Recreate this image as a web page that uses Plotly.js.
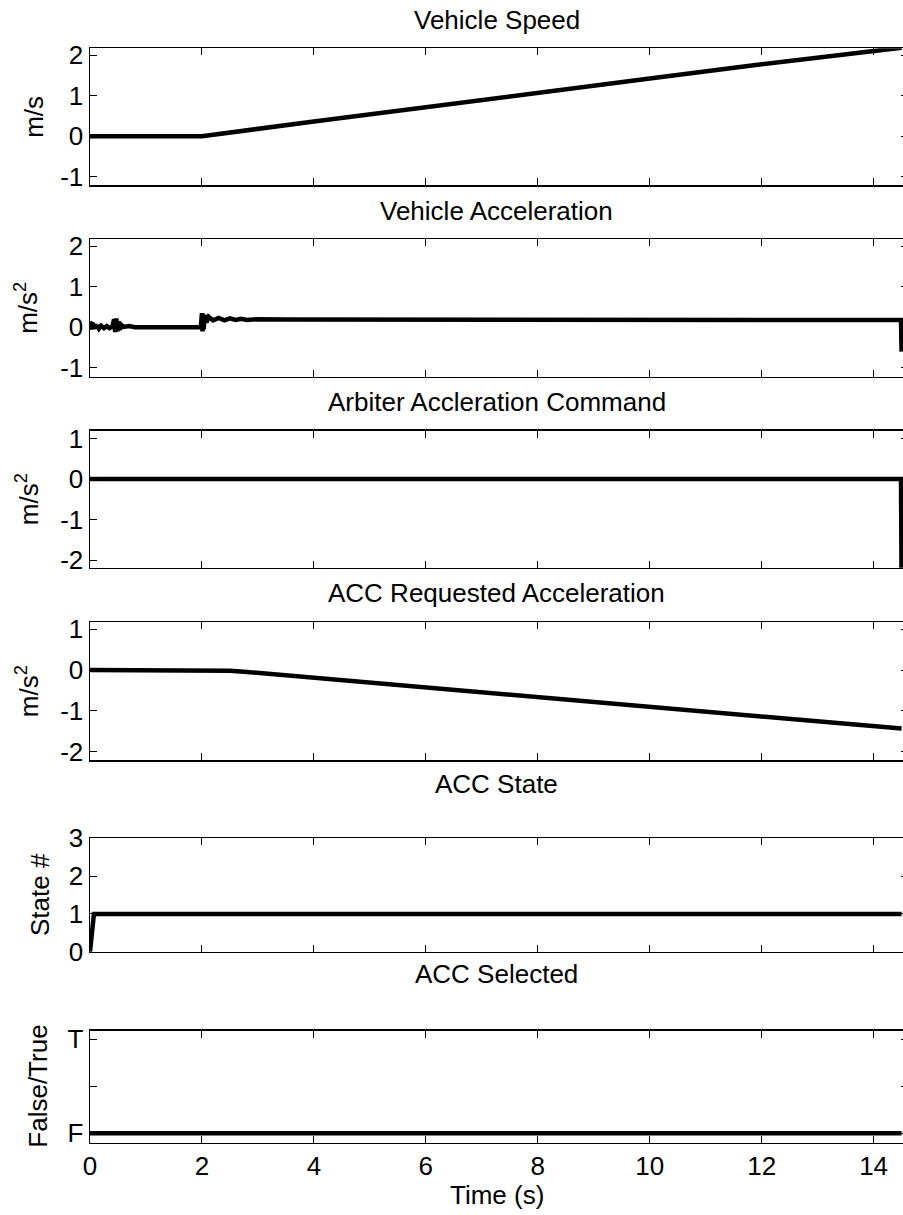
<!DOCTYPE html>
<html>
<head>
<meta charset="utf-8">
<script src="https://cdn.plot.ly/plotly-3.0.1.min.js"></script>
<style>
html,body{margin:0;padding:0;overflow:hidden;background:#fff;}
#chart{width:908px;height:1215px;}
</style>
</head>
<body>
<div id="chart"></div>
<script>
// ---- data ----
const panelTitles = ["Vehicle Speed", "Vehicle Acceleration", "Arbiter Accleration Command",
                     "ACC Requested Acceleration", "ACC State", "ACC Selected"];
const yTitles = ["m/s", "m/s<sup>2</sup>", "m/s<sup>2</sup>", "m/s<sup>2</sup>", "State #", "False/True"];
const xTitle = "Time (s)";
const xTickVals = [0, 2, 4, 6, 8, 10, 12, 14];

const speedT = [0, 2, 4, 6, 8, 10, 12, 14, 14.5];
const speedV = [0, 0, 0.36, 0.72, 1.07, 1.42, 1.77, 2.11, 2.18];

const accelT = [0, 0.02, 0.04, 0.06, 0.08, 0.1, 0.13, 0.16, 0.2, 0.25, 0.3, 0.35, 0.4, 0.43, 0.45, 0.47,
                0.49, 0.51, 0.53, 0.56, 0.6, 0.7, 0.8, 1.0, 1.5, 1.98, 2.0, 2.01, 2.02, 2.03, 2.05, 2.08,
                2.12, 2.2, 2.3, 2.4, 2.5, 2.6, 2.7, 2.8, 3.0, 3.5, 5, 8, 10, 12, 14, 14.49, 14.5];
const accelV = [0.15, -0.05, 0.12, -0.04, 0.08, -0.02, 0.05, -0.03, 0.04, -0.02, 0.03, -0.02, 0.02, 0.2, -0.12, 0.22,
                -0.1, 0.15, -0.06, 0.06, 0.01, 0.03, 0.0, 0.0, 0.0, 0.0, 0.35, -0.1, 0.33, -0.05, 0.3, 0.12,
                0.26, 0.17, 0.23, 0.17, 0.22, 0.18, 0.21, 0.18, 0.2, 0.19, 0.19, 0.19, 0.18, 0.18, 0.18, 0.18, -0.6];

const arbT = [0, 14.49, 14.5];
const arbV = [0, 0, -2.6];

const reqT = [0, 2.25, 2.5, 2.75, 3.0, 3.75, 6, 9.1, 10, 12, 14, 14.5];
const reqV = [0, 0, -0.015, -0.04, -0.07, -0.16, -0.42, -0.78, -0.89, -1.13, -1.37, -1.43];

const stateT = [0, 0.07, 14.5];
const stateV = [0, 1, 1];

const selT = [0, 14.5];
const selV = [0, 0];

const yTickVals = [[-1, 0, 1, 2], [-1, 0, 1, 2], [-2, -1, 0, 1], [-2, -1, 0, 1], [0, 1, 2, 3], [0, 0.5, 1]];
const yTickText = [["-1", "0", "1", "2"], ["-1", "0", "1", "2"], ["-2", "-1", "0", "1"], ["-2", "-1", "0", "1"],
                   ["0", "1", "2", "3"], ["F", " ", "T"]];
const yRanges = [[-1.21, 2.165], [-1.22, 2.18], [-2.19, 1.19], [-2.2, 1.17], [0, 3], [-0.1, 1.09]];

// ---- layout geometry (pixels) ----
const W = 908, H = 1215;
const plotLeft = 90, pxPerUnit = 55.97;
const xMax = (W - plotLeft) / pxPerUnit;
const boxes = [[48.3, 185.3], [239, 376.7], [430.7, 567.7], [622.3, 760], [838.3, 951.7], [1030.7, 1142.7]];
const titleY = [20, 211, 402, 593, 784, 974];
const yTitleX = [34, 27, 27, 27, 40, 38];

const FONT = "'Liberation Sans', Arial, sans-serif";
const series = [[speedT, speedV], [accelT, accelV], [arbT, arbV], [reqT, reqV], [stateT, stateV], [selT, selV]];

const traces = [];
const layout = {
  width: W, height: H,
  margin: {l: 0, r: 0, t: 0, b: 0},
  paper_bgcolor: "#fff", plot_bgcolor: "#fff",
  showlegend: false,
  font: {family: FONT, size: 26, color: "#000"},
  annotations: []
};

series.forEach((s, i) => {
  const n = i + 1;
  const xa = n === 1 ? "xaxis" : "xaxis" + n;
  const ya = n === 1 ? "yaxis" : "yaxis" + n;
  traces.push({
    x: s[0], y: s[1], type: "scatter", mode: "lines",
    xaxis: "x" + (n === 1 ? "" : n), yaxis: "y" + (n === 1 ? "" : n),
    line: {color: "#000", width: 4.5}, hoverinfo: "skip"
  });
  const top = boxes[i][0], bot = boxes[i][1];
  layout[xa] = {
    domain: [plotLeft / W, 1],
    anchor: "y" + (n === 1 ? "" : n),
    range: [0, xMax],
    tickvals: xTickVals,
    showticklabels: n === 6,
    ticks: "inside", ticklen: 7, tickwidth: 1, tickcolor: "#000",
    showline: true, linecolor: "#000", linewidth: 1.5, mirror: "ticks",
    showgrid: false, zeroline: false,
    tickfont: {family: FONT, size: 26, color: "#000"}
  };
  layout[ya] = {
    domain: [1 - bot / H, 1 - top / H],
    anchor: "x" + (n === 1 ? "" : n),
    range: yRanges[i],
    tickvals: yTickVals[i], ticktext: yTickText[i],
    ticks: "inside", ticklen: 7, tickwidth: 1, tickcolor: "#000",
    showline: true, linecolor: "#000", linewidth: 1.5, mirror: "ticks",
    showgrid: false, zeroline: false,
    tickfont: {family: FONT, size: 26, color: "#000"}
  };
  layout.annotations.push({
    text: panelTitles[i], xref: "paper", yref: "paper",
    x: (plotLeft + 903) / 2 / W, y: 1 - titleY[i] / H,
    xanchor: "center", yanchor: "middle", showarrow: false,
    font: {family: FONT, size: 26, color: "#000"}
  });
  layout.annotations.push({
    text: yTitles[i], xref: "paper", yref: "paper",
    x: yTitleX[i] / W, y: 1 - (top + bot) / 2 / H,
    xanchor: "center", yanchor: "middle", textangle: -90, showarrow: false,
    font: {family: FONT, size: 26, color: "#000"}
  });
});

layout.annotations.push({
  text: xTitle, xref: "paper", yref: "paper",
  x: (plotLeft + 903) / 2 / W, y: 1 - 1195 / H,
  xanchor: "center", yanchor: "middle", showarrow: false,
  font: {family: FONT, size: 26, color: "#000"}
});

Plotly.newPlot("chart", traces, layout, {staticPlot: true, displayModeBar: false});
</script>
</body>
</html>
